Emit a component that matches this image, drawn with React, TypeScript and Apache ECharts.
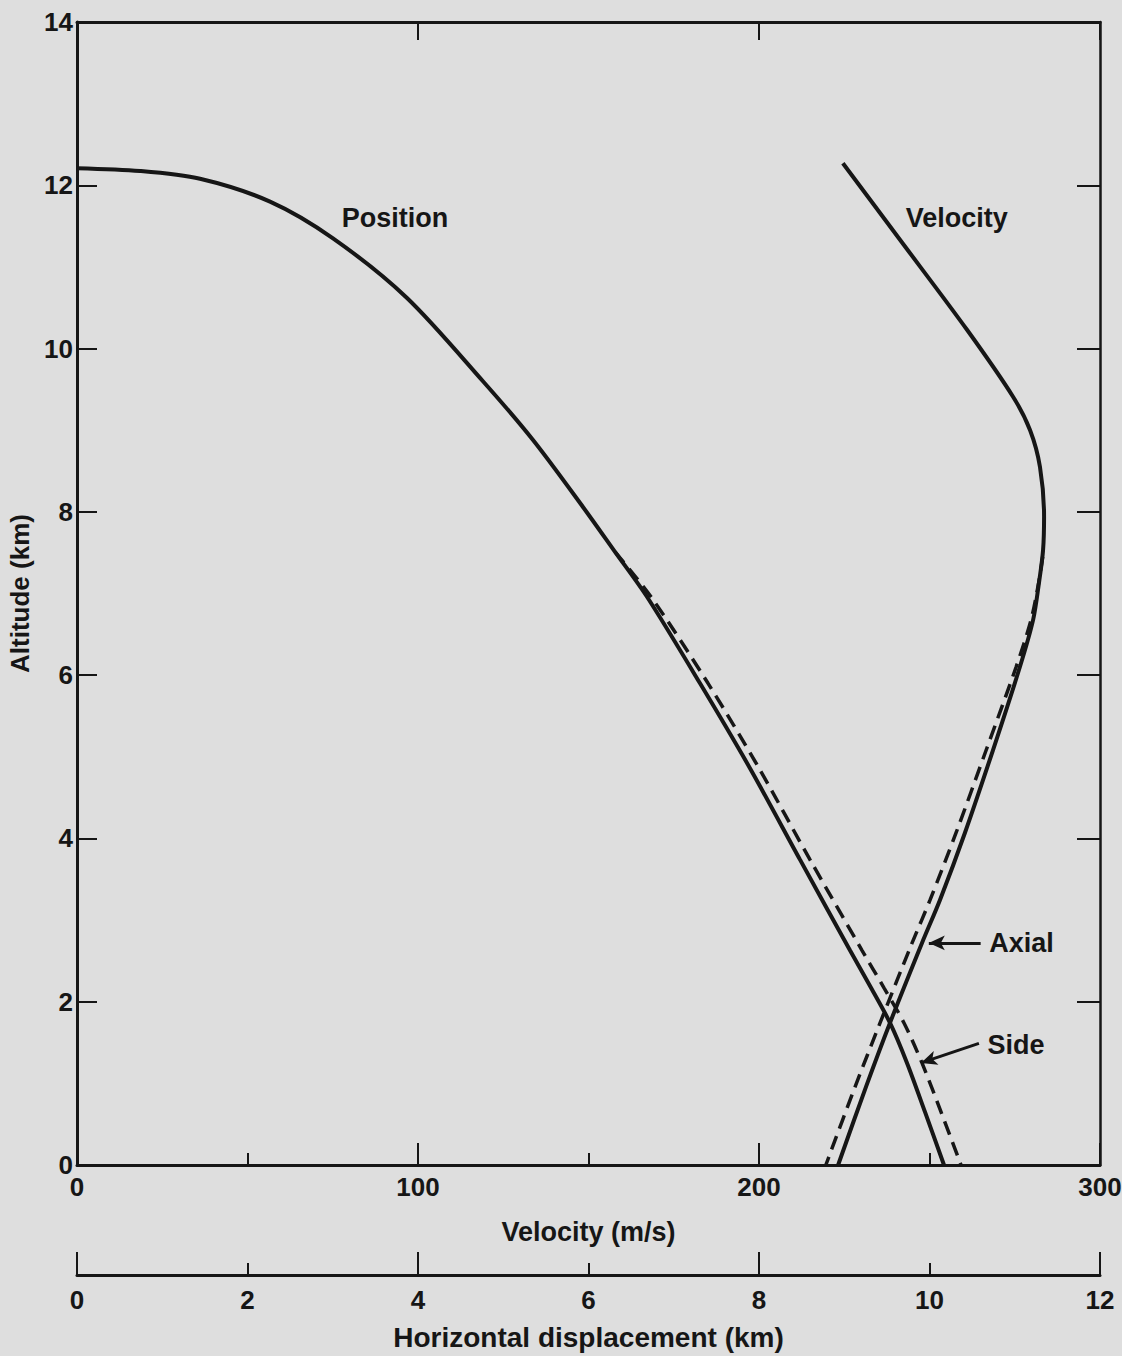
import React, { useEffect, useRef } from "react";
import * as echarts from "echarts";

// Altitude (km) vs horizontal displacement (km)
const positionSolid: number[][] = [
  [0, 12.21], [0.739, 12.175], [1.443, 12.08], [2.264, 11.8], [3.003, 11.35], [3.871, 10.62],
  [4.762, 9.6], [5.349, 8.88], [5.935, 8.06], [6.311, 7.51], [6.686, 6.96], [7.308, 5.9],
  [7.894, 4.86], [8.481, 3.74], [9.067, 2.63], [9.314, 2.17], [9.537, 1.74], [9.736, 1.25],
  [9.947, 0.65], [10.17, 0],
];
const positionDashed: number[][] = [
  [6.311, 7.51], [6.733, 6.96], [7.402, 5.9], [8.0, 4.86], [8.598, 3.74], [9.208, 2.63],
  [9.466, 2.17], [9.701, 1.74], [9.912, 1.25], [10.135, 0.65], [10.37, 0],
];
// Altitude (km) vs velocity (m/s)
const velocitySolid: number[][] = [
  [224.6, 12.27], [241.4, 11.33], [261.0, 10.23], [274.5, 9.41], [279.5, 9.0], [282.4, 8.55],
  [283.6, 7.94], [283.3, 7.53], [282.1, 7.13], [280.4, 6.68], [276.5, 6.1], [268.6, 5.08],
  [260.4, 4.07], [253.1, 3.25], [247.8, 2.72], [238.4, 1.74], [231.4, 0.96], [223.2, 0],
];
const velocityDashed: number[][] = [
  [283.2, 7.45], [282.0, 7.13], [279.8, 6.68], [275.4, 6.1], [266.6, 5.08], [257.8, 4.07],
  [250.2, 3.25], [244.9, 2.72], [235.5, 1.74], [228.2, 0.96], [219.6, 0],
];

const velocityRange = [0, 300];
const displacementRange = [0, 12];
const altitudeRange = [0, 14];

const axialArrow = [[265, 2.72], [249.8, 2.72]];
const sideArrow = [[264.5, 1.49], [247.5, 1.25]];

const FONT = "'Liberation Sans', Arial, sans-serif";
const INK = "#161616";

export default function App() {
  const ref = useRef<HTMLDivElement>(null);
  useEffect(() => {
    if (!ref.current) return;
    const chart = echarts.init(ref.current, null, { renderer: "svg" });
    const axisLineStyle = { color: INK, width: 3 };
    const tickLabel = { color: INK, fontFamily: FONT, fontWeight: "bold", fontSize: 26 };
    const nameStyle = (size: number) => ({ color: INK, fontFamily: FONT, fontWeight: "bold", fontSize: size });
    const option: any = {
      animation: false,
      backgroundColor: "#dedede",
      textStyle: { fontFamily: FONT },
      grid: { left: 77, right: 22, top: 22, bottom: 191, outerBoundsMode: "none", containLabel: false },
      xAxis: [
        {
          type: "value", position: "bottom", min: velocityRange[0], max: velocityRange[1], interval: 100,
          name: "Velocity (m/s)", nameLocation: "middle", nameGap: 53, nameTextStyle: nameStyle(27),
          axisLine: { show: true, onZero: false, lineStyle: axisLineStyle },
          axisTick: { show: true, inside: true, length: 22, lineStyle: { color: INK, width: 2 } },
          minorTick: { show: true, splitNumber: 2, length: 12, lineStyle: { color: INK, width: 2 } },
          axisLabel: { ...tickLabel, margin: 9 },
          splitLine: { show: false }, minorSplitLine: { show: false },
        },
        {
          type: "value", position: "top", min: velocityRange[0], max: velocityRange[1], interval: 100,
          axisLine: { show: true, onZero: false, lineStyle: axisLineStyle },
          axisTick: { show: true, inside: true, length: 18, lineStyle: { color: INK, width: 2 } },
          axisLabel: { show: false }, splitLine: { show: false },
        },
        {
          type: "value", position: "bottom", offset: 110, min: displacementRange[0], max: displacementRange[1], interval: 2,
          name: "Horizontal displacement (km)", nameLocation: "middle", nameGap: 48, nameTextStyle: nameStyle(28),
          axisLine: { show: true, onZero: false, lineStyle: axisLineStyle },
          axisTick: { show: true, inside: true, length: 12, lineStyle: { color: INK, width: 2 } },
          axisLabel: { ...tickLabel, margin: 12 },
          splitLine: { show: false },
        },
        {
          type: "value", position: "bottom", offset: 110, min: displacementRange[0], max: displacementRange[1], interval: 4,
          axisLine: { show: false, onZero: false },
          axisTick: { show: true, inside: true, length: 23, lineStyle: { color: INK, width: 2 } },
          axisLabel: { show: false }, splitLine: { show: false },
        },
      ],
      yAxis: [
        {
          type: "value", position: "left", min: altitudeRange[0], max: altitudeRange[1], interval: 2,
          name: "Altitude (km)", nameLocation: "middle", nameGap: 38, nameRotate: 90, nameTextStyle: nameStyle(26),
          axisLine: { show: true, onZero: false, lineStyle: axisLineStyle },
          axisTick: { show: true, inside: true, length: 20, lineStyle: { color: INK, width: 2 } },
          axisLabel: { ...tickLabel, margin: 4 },
          splitLine: { show: false },
        },
        {
          type: "value", position: "right", min: altitudeRange[0], max: altitudeRange[1], interval: 2,
          axisLine: { show: true, onZero: false, lineStyle: { color: INK, width: 2.5 } },
          axisTick: { show: true, inside: true, length: 23, lineStyle: { color: INK, width: 2 } },
          axisLabel: { show: false }, splitLine: { show: false },
        },
      ],
      series: [
        {
          type: "line", name: "Position axial", xAxisIndex: 2, yAxisIndex: 0, data: positionSolid,
          smooth: 0.3, showSymbol: false, lineStyle: { color: INK, width: 4 },
        },
        {
          type: "line", name: "Position side", xAxisIndex: 2, yAxisIndex: 0, data: positionDashed,
          smooth: 0.3, showSymbol: false, lineStyle: { color: INK, width: 3.5, type: [14, 8] },
        },
        {
          type: "line", name: "Velocity axial", xAxisIndex: 0, yAxisIndex: 0, data: velocitySolid,
          smooth: 0.3, showSymbol: false, lineStyle: { color: INK, width: 4 },
          markLine: {
            silent: true, symbolSize: [11, 16], label: { show: false },
            lineStyle: { color: INK, width: 3, type: "solid" },
            data: [
              [{ coord: axialArrow[0], symbol: "none" }, { coord: axialArrow[1], symbol: "arrow" }],
              [{ coord: sideArrow[0], symbol: "none", lineStyle: { curveness: 0.25 } }, { coord: sideArrow[1], symbol: "arrow" }],
            ],
          },
        },
        {
          type: "line", name: "Velocity side", xAxisIndex: 0, yAxisIndex: 0, data: velocityDashed,
          smooth: 0.3, showSymbol: false, lineStyle: { color: INK, width: 3.5, type: [14, 8] },
        },
      ],
    };
    chart.setOption(option);

    const labels = [
      { text: "Position", axis: 2, at: [3.73, 11.6], align: "center" },
      { text: "Velocity", axis: 0, at: [258, 11.6], align: "center" },
      { text: "Axial", axis: 0, at: [267.5, 2.72], align: "left" },
      { text: "Side", axis: 0, at: [267.0, 1.47], align: "left" },
    ];
    const graphic = labels.map((l) => {
      const p = chart.convertToPixel({ xAxisIndex: l.axis, yAxisIndex: 0 } as any, l.at) as number[];
      return {
        type: "text", x: p[0], y: p[1],
        style: {
          text: l.text, fill: INK, font: `bold 27px ${FONT}`,
          textAlign: l.align, textVerticalAlign: "middle",
        },
      };
    });
    chart.setOption({ graphic });
    return () => chart.dispose();
  }, []);
  return (
    <div
      ref={ref}
      style={{ position: "absolute", left: 0, top: 0, width: 1122, height: 1356 }}
    />
  );
}
